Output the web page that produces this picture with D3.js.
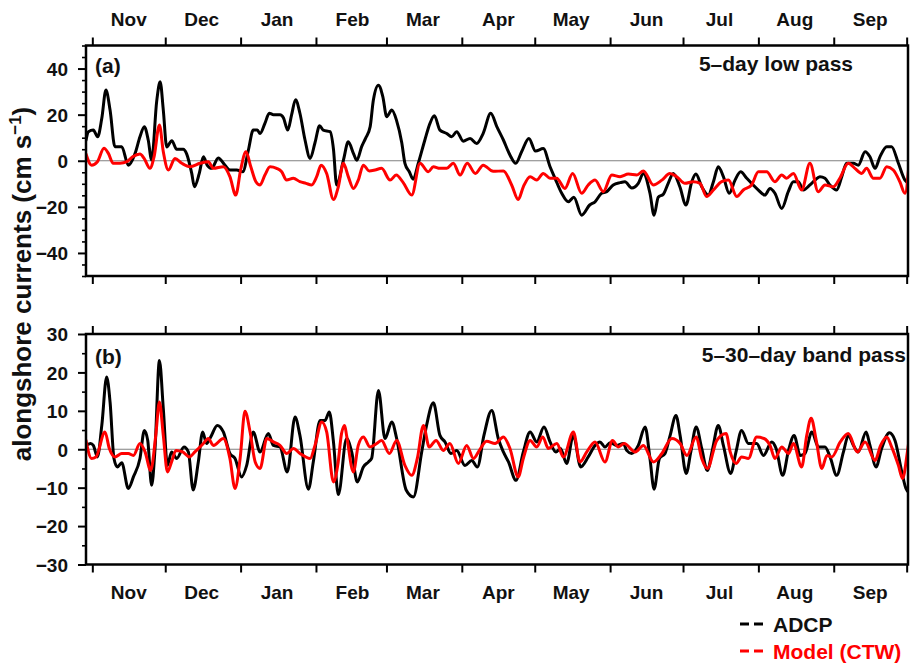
<!DOCTYPE html>
<html>
<head>
<meta charset="utf-8">
<script src="https://cdn.jsdelivr.net/npm/d3@7/dist/d3.min.js"></script>
<style>
  html, body { margin: 0; padding: 0; background: #fff; }
  svg { display: block; font-family: "Liberation Sans", Arial, Helvetica, sans-serif; font-weight: bold; }
</style>
</head>
<body>
<svg id="chart" width="910" height="667"></svg>
<script>
// Record starts 1 Nov 2011; day offsets below are days since that date.
const months = ["Nov", "Dec", "Jan", "Feb", "Mar", "Apr", "May", "Jun", "Jul", "Aug", "Sep"];

// (a) 5-day low-passed alongshore currents, [day, cm/s]
const lowAdcp = [
[-2.6,8.9],[-1.6,12.6],[0.4,13.3],[2.2,10.4],[3.9,18.4],[5.6,30.7],[7.3,22],[9.3,6.1],[12.1,6.1],[14.8,-1.9],[17.6,3.2],[19.6,10.4],[21.4,14.8],[23,9],[24.4,0.3],[26.5,26],[27.9,34.3],[29.2,22],[30.6,6],[32.7,8.7],[34.7,5],[37.4,5],[38.8,3],[40.9,-5.5],[42,-11.3],[44,-5.5],[45.7,1.7],[47.3,-2],[49.1,-3.3],[51.8,1.2],[54.6,-2],[56.6,-4],[59.4,-4],[61.9,-4.8],[64.2,4.6],[66.2,13.3],[67.9,13.3],[69,11.8],[71,16.2],[72.8,20.6],[74.5,20],[77.2,20],[78.6,18.7],[80.4,13.3],[82,20],[83.6,26.5],[85.4,20.6],[87.5,9],[89.6,1],[91.6,7.8],[93.5,15.2],[95,13.3],[97.8,12.6],[99.2,5],[100.5,-10.5],[103.3,0.3],[105.3,8.2],[107.4,3.2],[108.8,0.2],[110.8,6.1],[112.4,9.7],[114.3,14.8],[115.6,26.3],[117.7,32.8],[119.5,27.8],[121.1,19.1],[123.2,22],[125.2,17.3],[127.3,7.8],[128.6,-1.1],[130.4,-4.8],[132,-8],[134.1,-1.1],[136.8,9],[138.9,16.2],[140.7,19.5],[143,13.3],[145.8,11.8],[147.8,10.4],[149.9,12.6],[152.6,8.5],[155.4,9.7],[158.1,7.5],[160.8,11.9],[163.9,20.6],[166.4,14.8],[169.1,9],[171.8,2.5],[174.2,-1.1],[176.6,3.9],[179.6,9.7],[182.3,4.2],[185.5,5.3],[188.3,-2.6],[190.3,-7.5],[193.1,-14.1],[195.8,-17.8],[198.1,-15.8],[201.3,-23.6],[204.6,-19.2],[206.8,-17.8],[209.5,-14.1],[211.6,-13.4],[214.3,-10.5],[217.1,-9.5],[219.1,-9.1],[221.9,-11.8],[224.6,-9.8],[226.7,-5.5],[229.4,-14.1],[231.1,-23.6],[232.8,-15.8],[234.9,-14.5],[236.9,-9.8],[239,-5.5],[241.7,-11.3],[244.2,-19.2],[246.6,-9.1],[248.3,-5.8],[250.7,-11.3],[253.4,-14.9],[255.5,-9.1],[257.5,-2.6],[259.6,-6.9],[262,-14.1],[264.4,-8.4],[266.7,-4.8],[269.2,-7.6],[271.2,-9.8],[274,-12.7],[276.7,-14.9],[278.8,-12],[280.8,-14.1],[283.6,-20.7],[286.3,-13.4],[288.4,-9.1],[290.4,-9.1],[292.5,-12.7],[295.2,-10.5],[297.3,-8.4],[299.3,-6.9],[301.4,-7.6],[303.4,-10.5],[306.2,-12.7],[308.3,-6.9],[310.3,-1.1],[313.1,-1.1],[315.1,-1.9],[317.9,3.9],[319.9,1.7],[322,-3.3],[324,1.7],[326.8,6.1],[328.8,6.1],[331.6,-1.1],[334.3,-8.4],[336,-9.8]
];
const lowModel = [
[-2.6,2.9],[-0.3,-1.9],[2.1,-0.4],[4.8,5.4],[6.6,3.2],[8.6,-1.1],[11.4,-1.1],[14.2,-0.4],[16.6,1.7],[19.6,2.9],[21.3,1],[23.7,-3.3],[25.4,1.7],[27.6,15.5],[29.2,3.9],[31.3,-4],[34,1],[36.8,-1.1],[40.2,-2.6],[44.3,-1.1],[47.7,-0.4],[49.8,-3.3],[53.9,-2.6],[56.6,-6.9],[59,-14.9],[61,-4],[63.2,3.9],[65.2,-2.6],[67.3,-9.1],[69,-10.5],[71,-6.2],[73.1,-2.6],[75.8,-3.3],[77.9,-4.8],[79.9,-8.4],[82.7,-7.6],[85.4,-9.1],[87.9,-9.8],[90.2,-10.5],[92.3,-6.9],[94.1,-1.9],[96.4,-5.5],[99.2,-16.8],[101.2,-11.3],[103.3,-1.1],[105.3,-6.9],[107.4,-12],[109.4,-8.4],[111.5,-1.9],[113.9,-4.4],[116.3,-4],[119,-3.3],[122.5,-8.4],[125,-6.2],[127.9,-9.5],[131.4,-14.9],[134.8,-1.1],[138.2,-4.8],[140.3,-2.6],[143,-3.3],[145.8,-3.3],[148.5,-1.1],[151.3,-6.2],[154.2,-1.1],[157.6,-5.5],[160.8,-1.9],[164.9,-4.6],[169.1,-4.4],[172.5,-10.5],[175.2,-16.8],[177.3,-11.3],[180.1,-6.9],[182.8,-8.4],[185.5,-5.5],[188.3,-7.6],[191,-7.6],[194.4,-12],[197.6,-5.5],[201.3,-14.1],[204,-10.5],[206.8,-8.4],[210.2,-13.4],[213.7,-6.2],[217.1,-6.9],[220.5,-5.8],[224,-6.2],[226.7,-4.4],[230.8,-10.5],[234.3,-8.4],[237.6,-5.5],[240.4,-6.9],[243.8,-9.8],[247.2,-9.1],[250,-9.8],[252.7,-15.5],[255.5,-12.7],[258.9,-9.1],[261.7,-8.4],[265.1,-15.5],[267.8,-12.7],[271.2,-10.5],[274,-4.8],[277.4,-4.8],[280.8,-9.1],[283.6,-6.2],[285.6,-7.6],[288.4,-5.5],[291.8,-12.7],[295.2,-1.1],[298.6,-13.4],[301.4,-10.5],[304.8,-11.3],[307.5,-7.6],[311,-1.1],[313.7,-3.3],[316.5,-5.5],[318.5,-3.3],[321.3,-7.6],[324,-7.6],[326.8,-2.6],[329.5,-4],[332.2,-9.1],[334.3,-14.1],[336,-1.1]
];

// (b) 5-30-day band-passed alongshore currents, [day, cm/s]
const bandAdcp = [
[-2.6,1],[-0.7,1.5],[0.4,1],[2.1,-2],[3.9,6.2],[5.9,18.8],[7.3,12.3],[8.9,-2.4],[10.3,-4.6],[12.1,-3.5],[14.8,-10.2],[16.9,-7.2],[19.6,-2.4],[21.4,4.9],[22.8,2.3],[24.4,-9.4],[25.8,0.2],[27.6,23.1],[29.2,10.6],[30.9,-4.2],[32.6,-0.7],[34.7,-2.4],[37.7,0.6],[39.5,-0.7],[41.5,-10.6],[43.6,-3.3],[45.4,4.5],[47,1.5],[48.7,3.2],[51.4,6.2],[53.9,4.5],[56.6,-1.1],[58.7,-2.4],[61.4,-7.2],[63.5,-4.2],[66.2,4.5],[69,-0.7],[72.4,4.1],[74.5,1],[77.2,0.6],[80.2,-5.9],[83.4,8.4],[85.4,3.6],[88.9,-10.4],[90.9,-3.3],[93.7,7.5],[95.7,7.5],[97.5,9.7],[99.2,1.9],[101.2,-11.8],[104.6,2.8],[106.7,-0.7],[109,-8.5],[111.5,-4.6],[113.6,-3.3],[114.9,-2.4],[117.7,15.3],[120.4,2.8],[123.2,7.1],[125.2,2.8],[129.1,-10.6],[132.1,-12.4],[135.5,-0.7],[137.5,6.2],[140.3,12.1],[143,3.6],[145.1,1.9],[147.5,-1.1],[149.9,-0.3],[153.3,-4.2],[156.1,-2.9],[158.4,-4.6],[161.1,3.6],[164.3,10.1],[167,2.8],[169.1,-0.7],[171.2,-3.3],[174.3,-8.1],[177.3,-0.7],[180.1,4.5],[182.8,1.9],[185.8,5.8],[188.3,1.9],[190.7,-0.7],[192.6,0.2],[195.1,-3.7],[197.9,3.6],[200.9,-4.6],[204,-2],[206.8,1],[208.8,1.9],[210.9,0.6],[213,1.7],[215.7,1],[218.5,1.5],[219.8,-0.3],[221.9,-1.1],[224.6,1],[227.4,5.8],[229.4,-2.4],[231.1,-10.4],[233.3,-2.4],[235.6,-1.1],[237.7,3.6],[240.1,8.8],[241.8,3.6],[244.3,-6.3],[246.2,-0.7],[248.4,5.8],[250.7,0.2],[253,-5.5],[255.2,0.2],[257.5,6.2],[259.6,1],[262.6,-6.3],[264.8,-0.7],[267.1,4.9],[269.9,1.5],[273.3,1.5],[276.1,-1.6],[279.5,1.9],[281.3,0.2],[284,-6.8],[286.4,-0.3],[288.7,3.6],[291.2,-1.6],[293.2,-1.1],[296,4.5],[298.7,0.6],[301.4,0.6],[303.5,-2],[306.2,-6.8],[309,-0.7],[311,3.6],[313.1,1],[315.1,-0.7],[318.3,4.5],[319.9,1],[322.4,-4.6],[324.7,0.2],[327.9,4.3],[330.2,2.3],[333,-5.9],[334.7,-10.2],[336.4,-11.5]
];
const bandModel = [
[-2.6,2.3],[-0.3,-2.4],[1.5,-2],[5.2,4.5],[7,0.2],[9.3,-2],[12.1,-1.1],[14.8,-1.1],[16.9,-1.6],[19.6,1.5],[21.7,-0.7],[24,-5.5],[26.1,3.6],[27.6,12.3],[29.2,3.6],[30.9,-5.9],[32.6,-3.3],[34.4,-0.3],[37.2,-0.7],[39.9,-2],[42.2,-0.7],[45.7,1.5],[47.7,2.8],[49.8,1],[53.9,2.8],[56.6,-2.4],[58.7,-10.2],[60.8,-2.4],[62.8,9.9],[64.9,4.5],[67,-3.3],[69,-5],[71.8,2.8],[74.5,1.9],[77.2,1],[80,-1.1],[82.7,0.2],[85.4,-1.1],[89.6,-2.4],[91.6,1],[94.4,7.1],[96.4,4.5],[99.2,-8.5],[101,-4],[102.5,4],[103.8,6.2],[104.6,3.6],[107.4,-5.9],[109.4,1],[111.5,3.2],[114.2,0.6],[117,1.5],[119,2.3],[122.2,-1.1],[125.2,2.3],[128.6,-4.2],[131.4,-6.8],[133.7,-2.4],[136.2,6.2],[138.6,0.6],[141.4,2.3],[144.4,-0.3],[147.1,1.5],[150.6,-3.7],[154,1],[156.8,-2.4],[159.2,-0.3],[162.2,2.1],[165.7,1.5],[169.1,3.2],[171.8,0.2],[175.2,-7.2],[177.3,-2.4],[180.1,2.3],[182.8,0.6],[185.3,3.2],[187.6,0.2],[191.1,1.5],[193.8,-2],[197.9,4.5],[200.6,-3.3],[203.4,-0.7],[206.8,1.9],[210.9,-3.3],[214,2.3],[216.4,0.6],[218.8,1.5],[223.3,-0.7],[226.7,1],[230.8,-3.3],[234.3,-1.1],[238.4,2.8],[241.8,1.5],[244.6,-1.6],[248.4,3.2],[250.7,-2.4],[253,-5],[256.9,2.3],[260.7,4.1],[262.4,-0.7],[264.8,-3.7],[267.1,-2],[269.9,-2.4],[273.3,3.2],[276.3,2.8],[278.8,1],[280.8,-2.4],[283.6,0.6],[286.4,-1.1],[288.4,1.5],[291.8,-4.6],[293.9,3.6],[295.7,8.1],[297.8,2.3],[300.1,-5],[302.2,-1.6],[304.2,-2],[307.7,1.9],[311,4.1],[314.7,-0.7],[317.9,1.9],[322,-2.9],[324.3,1],[326.8,3.2],[328.8,0.6],[331.6,-4.2],[333.3,-7.6],[335.3,-0.7],[336.4,4.5]
];

const seriesNames = ["ADCP", "Model (CTW)"];
const seriesColors = ["#000000", "#ff0000"];

// ---- layout ----
const svg = d3.select("#chart");
const left = 86, right = 908;
const panels = [
  { id: "a", tag: "(a)", title: "5\u2013day low pass", top: 45.5, bottom: 276,
    domain: [-50, 50], major: [-40, -20, 0, 20, 40], minorStep: 5,
    data: [lowAdcp, lowModel], titleY: 71, tagY: 73, titleX: 853 },
  { id: "b", tag: "(b)", title: "5\u201330\u2013day band pass", top: 334, bottom: 564.5,
    domain: [-30, 30], major: [-30, -20, -10, 0, 10, 20, 30], minorStep: 5,
    data: [bandAdcp, bandModel], titleY: 362, tagY: 364, titleX: 906 }
];

const t0 = Date.UTC(2011, 10, 1);
const dayToDate = d => new Date(t0 + d * 864e5);
const x = d3.scaleUtc().domain([dayToDate(-2.6), dayToDate(335.55)]).range([left, right]);
const monthStarts = d3.utcMonth.range(dayToDate(0), dayToDate(336));
const monthMids = months.map((m, i) => d3.utcDay.offset(monthStarts[i], 15));

panels.forEach(p => {
  const y = d3.scaleLinear().domain(p.domain).range([p.bottom, p.top]);
  const g = svg.append("g").attr("class", "panel-" + p.id);

  g.append("clipPath").attr("id", "clip-" + p.id)
    .append("rect").attr("x", left).attr("y", p.top).attr("width", right - left).attr("height", p.bottom - p.top);

  // zero reference line
  g.append("line")
    .attr("x1", left).attr("x2", right).attr("y1", y(0)).attr("y2", y(0))
    .attr("stroke", "#808080").attr("stroke-width", 1.2);

  // series
  const line = d3.line().x(d => x(dayToDate(d[0]))).y(d => y(d[1])).curve(d3.curveMonotoneX);
  p.data.forEach((s, si) => {
    g.append("path").datum(s)
      .attr("clip-path", `url(#clip-${p.id})`)
      .attr("fill", "none").attr("stroke", seriesColors[si])
      .attr("stroke-width", 3).attr("stroke-linejoin", "round").attr("stroke-linecap", "round")
      .attr("d", line);
  });

  // y axis: major + minor ticks
  const minorVals = d3.range(p.domain[0], p.domain[1] + 0.001, p.minorStep).filter(v => !p.major.includes(v));
  g.append("g").attr("transform", `translate(${left},0)`)
    .call(d3.axisLeft(y).tickValues(minorVals).tickSize(4).tickFormat(""))
    .call(a => a.select(".domain").remove())
    .call(a => a.selectAll("line").attr("stroke-width", 1.6));
  g.append("g").attr("transform", `translate(${left},0)`)
    .call(d3.axisLeft(y).tickValues(p.major).tickSize(8).tickPadding(10))
    .call(a => a.select(".domain").remove())
    .call(a => a.selectAll("line").attr("stroke-width", 2))
    .call(a => a.selectAll("text").attr("font-size", 19).attr("font-weight", "bold")
      .attr("font-family", "Liberation Sans, Arial, sans-serif").attr("fill", "#111").attr("dy", "0.36em"));

  // x axis ticks at month boundaries, top and bottom
  g.append("g").attr("transform", `translate(0,${p.top})`)
    .call(d3.axisTop(x).tickValues(monthStarts).tickSize(8).tickFormat(""))
    .call(a => a.select(".domain").remove())
    .call(a => a.selectAll("line").attr("stroke-width", 2));
  g.append("g").attr("transform", `translate(0,${p.bottom})`)
    .call(d3.axisBottom(x).tickValues(monthStarts).tickSize(8).tickFormat(""))
    .call(a => a.select(".domain").remove())
    .call(a => a.selectAll("line").attr("stroke-width", 2));

  // frame
  g.append("rect").attr("x", left).attr("y", p.top)
    .attr("width", right - left).attr("height", p.bottom - p.top)
    .attr("fill", "none").attr("stroke", "#000").attr("stroke-width", 2.5);

  // panel tag and title
  g.append("text").attr("x", 95).attr("y", p.tagY).attr("font-size", 21).attr("fill", "#111").text(p.tag);
  g.append("text").attr("x", p.titleX).attr("y", p.titleY).attr("text-anchor", "end")
    .attr("font-size", 21).attr("fill", "#111").text(p.title);
});

// month labels above the top panel and below the bottom panel
[26, 599].forEach(yy => {
  svg.append("g").selectAll("text").data(months).join("text")
    .attr("x", (d, i) => x(monthMids[i])).attr("y", yy)
    .attr("text-anchor", "middle").attr("font-size", 19).attr("fill", "#111")
    .text(d => d);
});

// y-axis title
const yl = svg.append("text")
  .attr("transform", "translate(31,284) rotate(-90)")
  .attr("text-anchor", "middle").attr("font-size", 26).attr("fill", "#111");
yl.append("tspan").text("alongshore currents (cm s");
yl.append("tspan").attr("font-size", 17).attr("dy", -10).text("\u22121");
yl.append("tspan").attr("dy", 10).text(")");

// legend
const legend = svg.append("g");
seriesNames.forEach((name, i) => {
  const yy = 624 + i * 27;
  legend.append("line").attr("x1", 740).attr("x2", 763).attr("y1", yy).attr("y2", yy)
    .attr("stroke", seriesColors[i]).attr("stroke-width", 3).attr("stroke-dasharray", "9,5");
  legend.append("text").attr("x", 773).attr("y", yy + 8).attr("font-size", 21)
    .attr("fill", i === 0 ? "#111" : seriesColors[i]).text(name);
});
</script>
</body>
</html>
